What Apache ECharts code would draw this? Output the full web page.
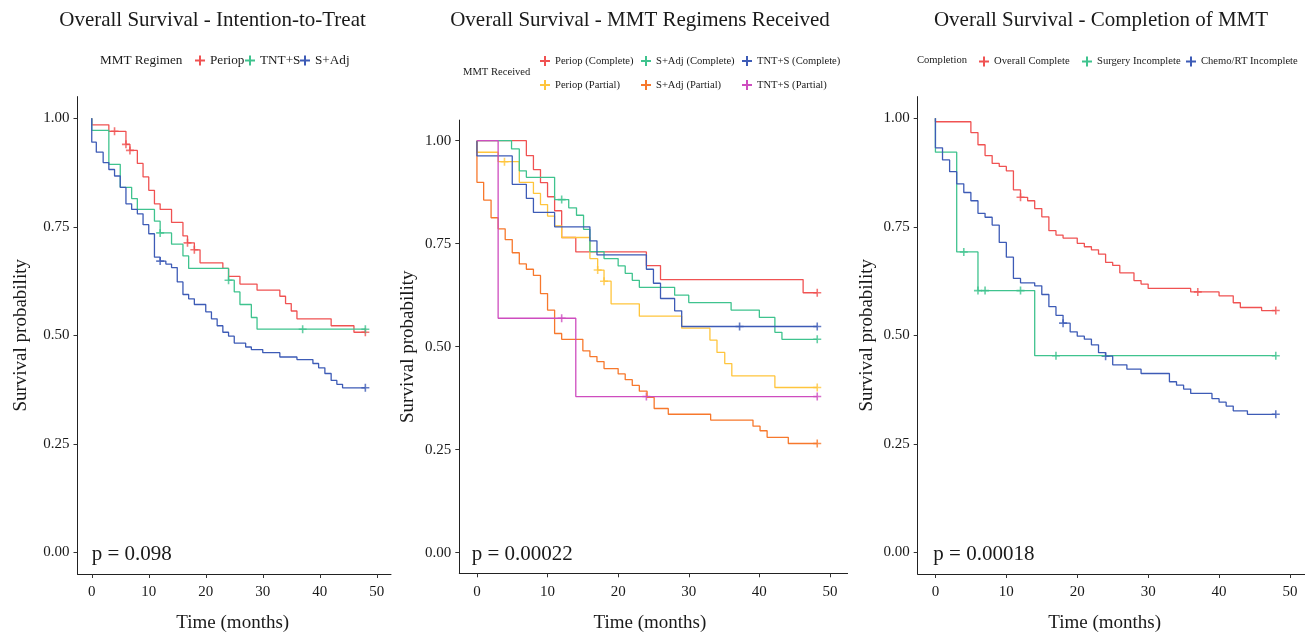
<!DOCTYPE html>
<html><head><meta charset="utf-8">
<script src="https://cdn.jsdelivr.net/npm/echarts@6/dist/echarts.min.js"></script>
<style>html,body{margin:0;padding:0;background:#fff}#c{width:1305px;height:632px}</style>
</head><body><div id="c"></div>
<script>
// ---------- tick labels ----------
const xTicks = [0, 10, 20, 30, 40, 50];
const yTicks = [0, 0.25, 0.5, 0.75, 1];

// ---------- Panel 1: Intention-to-Treat (drop times, survival after drop, censor times) ----------
const ittPeriopT = [0, 3, 6, 6.7, 8, 9, 10, 11, 12, 14, 16, 16.8, 18, 19, 23, 24, 26, 29, 33, 34, 35, 36, 42, 46];
const ittPeriopS = [0.985, 0.970, 0.940, 0.926, 0.896, 0.865, 0.834, 0.803, 0.790, 0.760, 0.729, 0.713, 0.697, 0.667, 0.654, 0.636, 0.618, 0.604, 0.590, 0.573, 0.556, 0.538, 0.522, 0.507];
const ittPeriopC = [4, 6, 6.7, 16.8, 18, 48];

const ittTntT = [0, 3, 5, 7, 8, 11, 12, 14, 16, 17, 24, 25, 26, 28, 29];
const ittTntS = [0.972, 0.894, 0.841, 0.815, 0.790, 0.763, 0.736, 0.710, 0.683, 0.654, 0.627, 0.600, 0.571, 0.541, 0.514];
const ittTntC = [12, 24, 37, 48];

const ittSadjT = [0, 0.8, 2, 3, 4, 5, 6, 7, 8, 9, 10, 11, 12, 13, 14, 15, 16, 17, 18, 20, 21, 22, 23, 24, 25, 27, 28, 30, 33, 36, 38.8, 39.8, 40.9, 42, 43, 44];
const ittSadjS = [0.945, 0.922, 0.898, 0.882, 0.867, 0.841, 0.803, 0.790, 0.780, 0.755, 0.734, 0.680, 0.671, 0.664, 0.656, 0.623, 0.594, 0.584, 0.571, 0.554, 0.538, 0.522, 0.507, 0.498, 0.482, 0.473, 0.467, 0.460, 0.450, 0.444, 0.435, 0.425, 0.412, 0.396, 0.387, 0.379];
const ittSadjC = [12, 48];

// ---------- Panel 2: MMT Regimens Received ----------
const recPeriopCT = [7, 8, 9, 10, 11, 12, 14, 24, 26, 46.2];
const recPeriopCS = [0.964, 0.930, 0.898, 0.864, 0.830, 0.765, 0.730, 0.697, 0.663, 0.631];
const recPeriopCC = [48.2];

const recPeriopPT = [0, 3, 6, 8, 9, 10, 11, 12, 16, 17.1, 18, 19, 23, 29, 33, 34, 35.1, 36.1, 42.2];
const recPeriopPS = [0.972, 0.949, 0.899, 0.872, 0.845, 0.817, 0.793, 0.765, 0.714, 0.686, 0.659, 0.604, 0.574, 0.545, 0.516, 0.486, 0.459, 0.429, 0.401];
const recPeriopPC = [3.9, 17.1, 18, 48.2];

const recSadjCT = [4.9, 6, 7, 11, 13, 14.1, 15.1, 16, 18, 20, 21, 22, 23, 28, 30, 36, 40, 42.2, 43.2];
const recSadjCS = [0.980, 0.927, 0.911, 0.857, 0.837, 0.819, 0.785, 0.731, 0.714, 0.696, 0.678, 0.661, 0.644, 0.625, 0.607, 0.589, 0.571, 0.535, 0.518];
const recSadjCC = [12, 48.2];

const recSadjPT = [0, 0.95, 2, 3, 4, 5, 6, 7, 8, 9, 10, 11, 12, 15, 16, 17, 18, 20, 21, 22, 23, 24.1, 25.1, 27.1, 33.1, 39.1, 40.1, 41.1, 44.1];
const recSadjPS = [0.899, 0.856, 0.813, 0.786, 0.760, 0.728, 0.701, 0.688, 0.673, 0.629, 0.589, 0.532, 0.518, 0.490, 0.476, 0.464, 0.447, 0.434, 0.420, 0.406, 0.392, 0.377, 0.350, 0.336, 0.322, 0.307, 0.296, 0.280, 0.265];
const recSadjPC = [48.2];

const recTntCT = [0, 5, 7, 8, 11, 16, 17, 24, 25, 26, 28, 29];
const recTntCS = [0.963, 0.894, 0.860, 0.826, 0.791, 0.757, 0.723, 0.688, 0.654, 0.617, 0.587, 0.549];
const recTntCC = [37.2, 48.2];

const recTntPT = [3, 14];
const recTntPS = [0.569, 0.379];
const recTntPC = [12, 24, 48.2];

// ---------- Panel 3: Completion of MMT ----------
const cmpOverallT = [0, 5, 6, 7, 8, 9, 10, 11, 12, 13, 14, 15, 16, 17, 18, 20, 21, 22, 23, 24, 25, 26, 28, 29, 30, 36, 40, 42, 43, 46];
const cmpOverallS = [0.992, 0.967, 0.939, 0.914, 0.896, 0.889, 0.879, 0.835, 0.818, 0.810, 0.792, 0.773, 0.741, 0.731, 0.724, 0.712, 0.704, 0.697, 0.687, 0.668, 0.661, 0.644, 0.626, 0.618, 0.608, 0.600, 0.591, 0.575, 0.564, 0.557];
const cmpOverallC = [12, 37, 48];

const cmpSurgT = [0, 3, 6, 14];
const cmpSurgS = [0.922, 0.692, 0.603, 0.453];
const cmpSurgC = [4, 6, 7, 12, 17, 48];

const cmpChemoT = [0, 1, 2, 3, 4, 5, 6, 7, 8, 9, 10, 11, 12, 14, 15, 16, 17, 18, 19, 20, 21, 22, 23, 24, 25, 27, 29, 33, 34, 35, 36, 39, 40, 41, 42, 44];
const cmpChemoS = [0.932, 0.904, 0.877, 0.849, 0.829, 0.810, 0.781, 0.772, 0.754, 0.714, 0.680, 0.631, 0.621, 0.614, 0.594, 0.566, 0.546, 0.528, 0.508, 0.498, 0.491, 0.478, 0.460, 0.452, 0.432, 0.422, 0.412, 0.393, 0.385, 0.376, 0.366, 0.354, 0.346, 0.337, 0.326, 0.318];
const cmpChemoC = [18, 24, 48];

// ---------- texts ----------
const titles = ['Overall Survival - Intention-to-Treat', 'Overall Survival - MMT Regimens Received', 'Overall Survival - Completion of MMT'];
const pValues = ['p = 0.098', 'p = 0.00022', 'p = 0.00018'];
const legendTitles = ['MMT Regimen', 'MMT Received', 'Completion'];

// ---------- styling ----------
const SERIF = '"Liberation Serif","Times New Roman",serif';
const TXT = '#1a1a1a';
const RED = '#F05252', GREEN = '#3FC38E', BLUE = '#3D5BB6', YELLOW = '#FFC53D', ORANGE = '#F7782C', MAGENTA = '#CE4DBF';
const PLUS = 'path://M4,0h2v4h4v2h-4v4h-2v-4h-4v-2h4z';

const curves = [
  {p: 0, name: 'Periop', color: RED, t: ittPeriopT, s: ittPeriopS, c: ittPeriopC, lx: 200, ly: 61, fs: 13.2},
  {p: 0, name: 'TNT+S', color: GREEN, t: ittTntT, s: ittTntS, c: ittTntC, lx: 250, ly: 61, fs: 13.2},
  {p: 0, name: 'S+Adj', color: BLUE, t: ittSadjT, s: ittSadjS, c: ittSadjC, lx: 305, ly: 61, fs: 13.2},
  {p: 1, name: 'Periop (Complete)', color: RED, t: recPeriopCT, s: recPeriopCS, c: recPeriopCC, lx: 545, ly: 62.5, fs: 10.6},
  {p: 1, name: 'Periop (Partial)', color: YELLOW, t: recPeriopPT, s: recPeriopPS, c: recPeriopPC, lx: 545, ly: 86.5, fs: 10.6},
  {p: 1, name: 'S+Adj (Complete)', color: GREEN, t: recSadjCT, s: recSadjCS, c: recSadjCC, lx: 646, ly: 62.5, fs: 10.6},
  {p: 1, name: 'S+Adj (Partial)', color: ORANGE, t: recSadjPT, s: recSadjPS, c: recSadjPC, lx: 646, ly: 86.5, fs: 10.6},
  {p: 1, name: 'TNT+S (Complete)', color: BLUE, t: recTntCT, s: recTntCS, c: recTntCC, lx: 747, ly: 62.5, fs: 10.6},
  {p: 1, name: 'TNT+S (Partial)', color: MAGENTA, t: recTntPT, s: recTntPS, c: recTntPC, lx: 747, ly: 86.5, fs: 10.6},
  {p: 2, name: 'Overall Complete', color: RED, t: cmpOverallT, s: cmpOverallS, c: cmpOverallC, lx: 984, ly: 63, fs: 10.6},
  {p: 2, name: 'Surgery Incomplete', color: GREEN, t: cmpSurgT, s: cmpSurgS, c: cmpSurgC, lx: 1087, ly: 63, fs: 10.6},
  {p: 2, name: 'Chemo/RT Incomplete', color: BLUE, t: cmpChemoT, s: cmpChemoS, c: cmpChemoC, lx: 1191, ly: 63, fs: 10.6}
];

function stepPoints(t, s, c) {
  const pts = [[0, 1]];
  let prev = 1;
  for (let i = 0; i < t.length; i++) {
    pts.push([t[i], prev]);
    pts.push([t[i], s[i]]);
    prev = s[i];
  }
  const end = Math.max(t[t.length - 1], c.length ? c[c.length - 1] : 0);
  pts.push([end, prev]);
  return pts;
}
function levelAt(t, s, x) {
  let v = 1;
  for (let i = 0; i < t.length; i++) if (t[i] <= x + 1e-9) v = s[i];
  return v;
}

const gridBoxes = [
  {left: 77.5, top: 96.6, width: 313.5, height: 477.4, containLabel: false, outerBoundsMode: 'none'},
  {left: 459.3, top: 120.1, width: 388.3, height: 453.2, containLabel: false, outerBoundsMode: 'none'},
  {left: 917.7, top: 96.6, width: 390, height: 477.4, containLabel: false, outerBoundsMode: 'none'}
];
const yNameGap = [47, 42, 41];
const xNameShift = [3, 7, 16];

const xAxes = [], yAxes = [];
for (let i = 0; i < 3; i++) {
  xAxes.push({
    type: 'value', gridIndex: i, min: -2.5, max: 52.5,
    axisLine: {onZero: false, lineStyle: {color: '#222', width: 1}},
    axisTick: {customValues: xTicks, length: 4, lineStyle: {color: '#333', width: 1}},
    axisLabel: {customValues: xTicks, fontSize: 15, fontFamily: SERIF, color: TXT, margin: 11},
    splitLine: {show: false},
    name: 'Time (months)', nameLocation: 'middle', nameGap: 40,
    nameTextStyle: {fontSize: 19, fontFamily: SERIF, color: TXT, padding: [0, xNameShift[i], 0, 0]}
  });
  yAxes.push({
    type: 'value', gridIndex: i, min: -0.05, max: 1.05,
    axisLine: {onZero: false, lineStyle: {color: '#222', width: 1}},
    axisTick: {customValues: yTicks, length: 4, lineStyle: {color: '#333', width: 1}},
    axisLabel: {customValues: yTicks, fontSize: 15, fontFamily: SERIF, color: TXT, margin: 8,
      formatter: v => v.toFixed(2)},
    splitLine: {show: false},
    name: 'Survival probability', nameLocation: 'middle', nameGap: yNameGap[i], nameRotate: 90,
    nameTextStyle: {fontSize: 19, fontFamily: SERIF, color: TXT}
  });
}

const series = [];
const legends = [];
curves.forEach(cv => {
  series.push({
    type: 'line', name: cv.name, xAxisIndex: cv.p, yAxisIndex: cv.p,
    data: stepPoints(cv.t, cv.s, cv.c), showSymbol: false, symbol: 'none',
    lineStyle: {color: cv.color, width: 1.3}, itemStyle: {color: cv.color},
    animation: false, silent: true
  });
  series.push({
    type: 'scatter', name: cv.name, xAxisIndex: cv.p, yAxisIndex: cv.p,
    data: cv.c.map(x => [x, levelAt(cv.t, cv.s, x)]),
    symbol: PLUS, symbolSize: 8, itemStyle: {color: cv.color},
    animation: false, silent: true
  });
  legends.push({
    data: [{name: cv.name, icon: PLUS}], left: cv.lx - 5, top: cv.ly - 7,
    padding: 0, itemWidth: 10, itemHeight: 10, itemGap: 0, selectedMode: false,
    textStyle: {fontFamily: SERIF, fontSize: cv.fs, color: TXT}
  });
});

const graphics = [
  {type: 'text', x: 212.5, y: 20.5, style: {text: titles[0], font: '21px ' + SERIF, fill: TXT, align: 'center', verticalAlign: 'middle'}},
  {type: 'text', x: 640, y: 20.5, style: {text: titles[1], font: '21px ' + SERIF, fill: TXT, align: 'center', verticalAlign: 'middle'}},
  {type: 'text', x: 1101, y: 20.5, style: {text: titles[2], font: '21px ' + SERIF, fill: TXT, align: 'center', verticalAlign: 'middle'}},
  {type: 'text', x: 100, y: 60.5, style: {text: legendTitles[0], font: '13.2px ' + SERIF, fill: TXT, align: 'left', verticalAlign: 'middle'}},
  {type: 'text', x: 463, y: 72, style: {text: legendTitles[1], font: '10.6px ' + SERIF, fill: TXT, align: 'left', verticalAlign: 'middle'}},
  {type: 'text', x: 917, y: 60.5, style: {text: legendTitles[2], font: '10.6px ' + SERIF, fill: TXT, align: 'left', verticalAlign: 'middle'}},
  {type: 'text', x: 91.7, y: 554, style: {text: pValues[0], font: '21px ' + SERIF, fill: TXT, align: 'left', verticalAlign: 'middle'}},
  {type: 'text', x: 471.7, y: 554, style: {text: pValues[1], font: '21px ' + SERIF, fill: TXT, align: 'left', verticalAlign: 'middle'}},
  {type: 'text', x: 933.3, y: 554, style: {text: pValues[2], font: '21px ' + SERIF, fill: TXT, align: 'left', verticalAlign: 'middle'}}
];

const chart = echarts.init(document.getElementById('c'), null, {renderer: 'canvas'});
chart.setOption({
  animation: false,
  backgroundColor: '#fff',
  grid: gridBoxes,
  xAxis: xAxes,
  yAxis: yAxes,
  legend: legends,
  series: series,
  graphic: graphics
});
</script></body></html>
